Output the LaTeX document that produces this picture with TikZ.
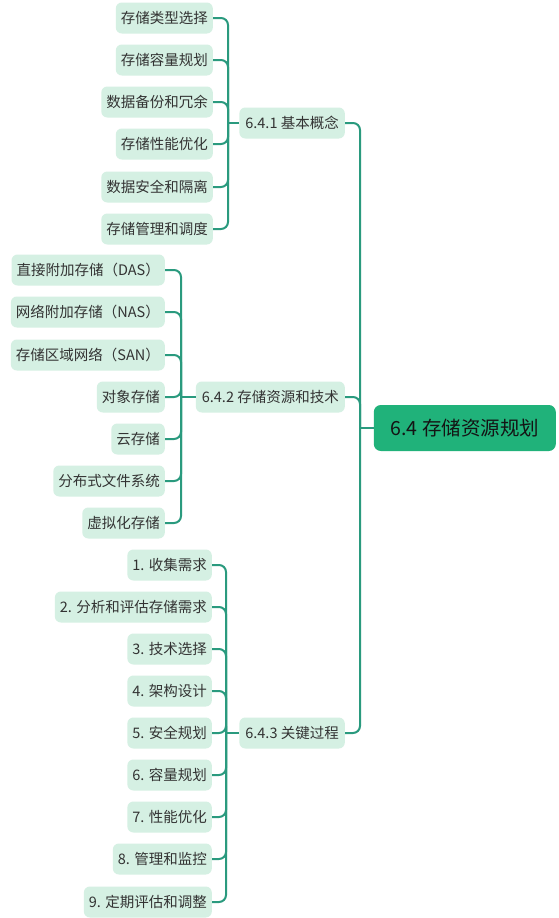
\documentclass[tikz,border=0pt]{standalone}
\usepackage{fontspec}
\setmainfont{Noto Sans CJK SC}
\definecolor{lnc}{HTML}{2A9A7E}
\definecolor{lfill}{HTML}{D5F0E3}
\definecolor{rfill}{HTML}{20B27A}
\definecolor{txt}{HTML}{333333}
\definecolor{rtxt}{HTML}{141414}
\tikzset{
  leaf/.style={fill=lfill, rounded corners=6pt, text=txt, font=\fontsize{14.5}{16}\selectfont, inner xsep=5pt, inner ysep=0pt, minimum height=31pt, anchor=east},
  sub/.style={leaf, inner xsep=6pt},
  rootbox/.style={fill=rfill, rounded corners=7pt, text=rtxt, font=\fontsize{19.5}{22}\selectfont, minimum height=46pt, minimum width=182pt, anchor=east},
  conn/.style={draw=lnc, line width=2pt, rounded corners=7pt}
}
\begin{document}
\begin{tikzpicture}[x=1pt,y=-1pt]
\useasboundingbox[fill=white] (0,0) rectangle (559,918);
% root
\node[rootbox] (root) at (556,428) {6.4 存储资源规划};
% level 1
\node[sub] (b1) at (345,123) {6.4.1 基本概念};
\node[sub] (b2) at (345,397) {6.4.2 存储资源和技术};
\node[sub] (b3) at (345,733) {6.4.3 关键过程};
\coordinate (jr) at (360,428);
\coordinate (j1) at (228,123);
\coordinate (j2) at (181,397);
\coordinate (j3) at (226,733);
% group 1
\node[leaf] (a1) at (213,18) {存储类型选择};
\node[leaf] (a2) at (213,60) {存储容量规划};
\node[leaf] (a3) at (213,102) {数据备份和冗余};
\node[leaf] (a4) at (213,144) {存储性能优化};
\node[leaf] (a5) at (213,187) {数据安全和隔离};
\node[leaf] (a6) at (213,229) {存储管理和调度};
% group 2
\node[leaf] (c1) at (165,270) {直接附加存储（DAS）};
\node[leaf] (c2) at (165,312) {网络附加存储（NAS）};
\node[leaf] (c3) at (165,355) {存储区域网络（SAN）};
\node[leaf] (c4) at (165,397) {对象存储};
\node[leaf] (c5) at (165,439) {云存储};
\node[leaf] (c6) at (165,481) {分布式文件系统};
\node[leaf] (c7) at (165,523) {虚拟化存储};
% group 3
\node[leaf] (d1) at (212,565) {1. 收集需求};
\node[leaf] (d2) at (212,607) {2. 分析和评估存储需求};
\node[leaf] (d3) at (212,649) {3. 技术选择};
\node[leaf] (d4) at (212,691) {4. 架构设计};
\node[leaf] (d5) at (212,733) {5. 安全规划};
\node[leaf] (d6) at (212,775) {6. 容量规划};
\node[leaf] (d7) at (212,817) {7. 性能优化};
\node[leaf] (d8) at (212,859) {8. 管理和监控};
\node[leaf] (d9) at (212,902) {9. 定期评估和调整};
% connectors root
\draw[conn] (root.west) -- (jr);
\foreach \n in {b1,b2,b3} \draw[conn] (jr) |- (\n.east);
% group connectors
\draw[conn] (b1.west) -- (j1);
\foreach \n in {a1,a2,a3,a4,a5,a6} \draw[conn] (j1) |- (\n.east);
\draw[conn] (b2.west) -- (j2);
\foreach \n in {c1,c2,c3,c4,c5,c6,c7} \draw[conn] (j2) |- (\n.east);
\draw[conn] (b3.west) -- (j3);
\foreach \n in {d1,d2,d3,d4,d5,d6,d7,d8,d9} \draw[conn] (j3) |- (\n.east);
\end{tikzpicture}
\end{document}
